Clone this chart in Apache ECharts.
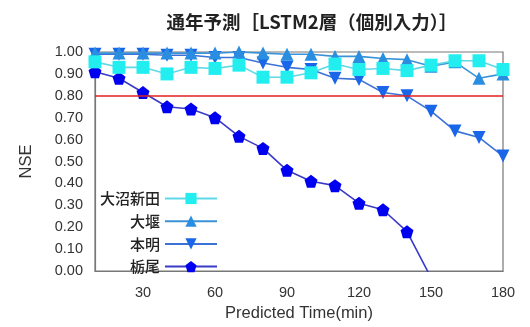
<!DOCTYPE html>
<html>
<head>
<meta charset="utf-8">
<script src="https://cdn.jsdelivr.net/npm/echarts@6/dist/echarts.min.js"></script>
<style>html,body{margin:0;padding:0;background:#fff}#c{width:530px;height:327px}</style>
</head>
<body>
<div id="c"></div>
<script>
var times = [10,20,30,40,50,60,70,80,90,100,110,120,130,140,150,160,170,180];
var xTicks = [30,60,90,120,150,180];
var onumaShinden = [0.955,0.93,0.93,0.90,0.93,0.925,0.94,0.885,0.885,0.905,0.945,0.92,0.925,0.915,0.94,0.96,0.96,0.92];
var oozeki = [0.995,0.995,0.995,0.995,0.995,0.995,1.00,0.995,0.99,0.99,0.98,0.98,0.97,0.965,0.935,0.955,0.88,0.90];
var honmyo = [0.99,0.99,0.99,0.985,0.985,0.975,0.975,0.95,0.93,0.92,0.88,0.875,0.815,0.80,0.73,0.64,0.61,0.525];
var tochio = [0.91,0.88,0.815,0.75,0.74,0.70,0.615,0.56,0.46,0.41,0.39,0.31,0.28,0.18,-0.03,null,null,null];
var names = ['大沼新田','大堰','本明','栃尾'];
var threshold = 0.8;

function pairs(v){ return times.map(function(t,i){ return [t, v[i]]; }); }
var pent = 'path://M0,-1 L0.951,-0.309 L0.588,0.809 L-0.588,0.809 L-0.951,-0.309 Z';
var tri = 'path://M0,-1 L1,0.8 L-1,0.8 Z';
var triDown = 'path://M0,1 L1,-0.8 L-1,-0.8 Z';
var cjk = '"Noto Sans CJK JP", sans-serif';
var lat = '"Liberation Sans", Arial, sans-serif';

var chart = echarts.init(document.getElementById('c'));
chart.setOption({
  animation: false,
  title: {
    text: '通年予測［LSTM2層（個別入力）］',
    left: 307, top: 8, textAlign: 'center',
    textStyle: {fontFamily: cjk, fontSize: 18.5, fontWeight: 'bold', color: '#222'}
  },
  grid: {left: 95, right: 27, top: 52, bottom: 52, show: true, borderColor: '#777', borderWidth: 1.2},
  legend: {
    orient: 'vertical', left: 95, top: 186, align: 'right',
    itemWidth: 52, itemHeight: 14, itemGap: 7.7,
    data: names,
    textStyle: {fontFamily: cjk, fontSize: 15, fontWeight: 500, color: '#222', width: 70, align: 'right'}
  },
  xAxis: {
    type: 'value', min: 10, max: 180,
    name: 'Predicted Time(min)', nameLocation: 'middle', nameGap: 29,
    nameTextStyle: {fontFamily: lat, fontSize: 16.5, color: '#333'},
    axisLine: {show: true, lineStyle: {color: '#777', width: 1.2}},
    axisTick: {show: false},
    splitLine: {show: false},
    axisLabel: {customValues: xTicks, fontFamily: lat, fontSize: 14.5, color: '#333', margin: 14}
  },
  yAxis: {
    type: 'value', min: 0, max: 1, interval: 0.1,
    name: 'NSE', nameLocation: 'middle', nameGap: 60,
    nameTextStyle: {fontFamily: lat, fontSize: 16.5, color: '#333'},
    axisLine: {show: true, lineStyle: {color: '#777', width: 1.2}},
    axisTick: {show: false},
    splitLine: {show: false},
    axisLabel: {fontFamily: lat, fontSize: 14.5, color: '#333', margin: 12,
      formatter: function(v){ return v.toFixed(2); }}
  },
  series: [
    {name: names[3], type: 'line', data: pairs(tochio), symbol: pent, symbolSize: 13, z: 2,
      lineStyle: {color: '#3a3ac8', width: 1.6}, itemStyle: {color: '#0000f0'},
      markLine: {silent: true, symbol: 'none', label: {show: false},
        lineStyle: {color: '#e02020', width: 1.6, type: 'solid'}, data: [{yAxis: threshold}]}},
    {name: names[2], type: 'line', data: pairs(honmyo), symbol: triDown, symbolSize: 13, z: 3,
      lineStyle: {color: '#3b72d8', width: 1.6}, itemStyle: {color: '#1a66e8'}},
    {name: names[1], type: 'line', data: pairs(oozeki), symbol: tri, symbolSize: 13, z: 4,
      lineStyle: {color: '#3a92d8', width: 1.6}, itemStyle: {color: '#2a8ee0'}},
    {name: names[0], type: 'line', data: pairs(onumaShinden), symbol: 'rect', symbolSize: 13, z: 5,
      lineStyle: {color: '#5fd8e8', width: 1.6}, itemStyle: {color: '#22eef0'}}
  ]
});
</script>
</body>
</html>
